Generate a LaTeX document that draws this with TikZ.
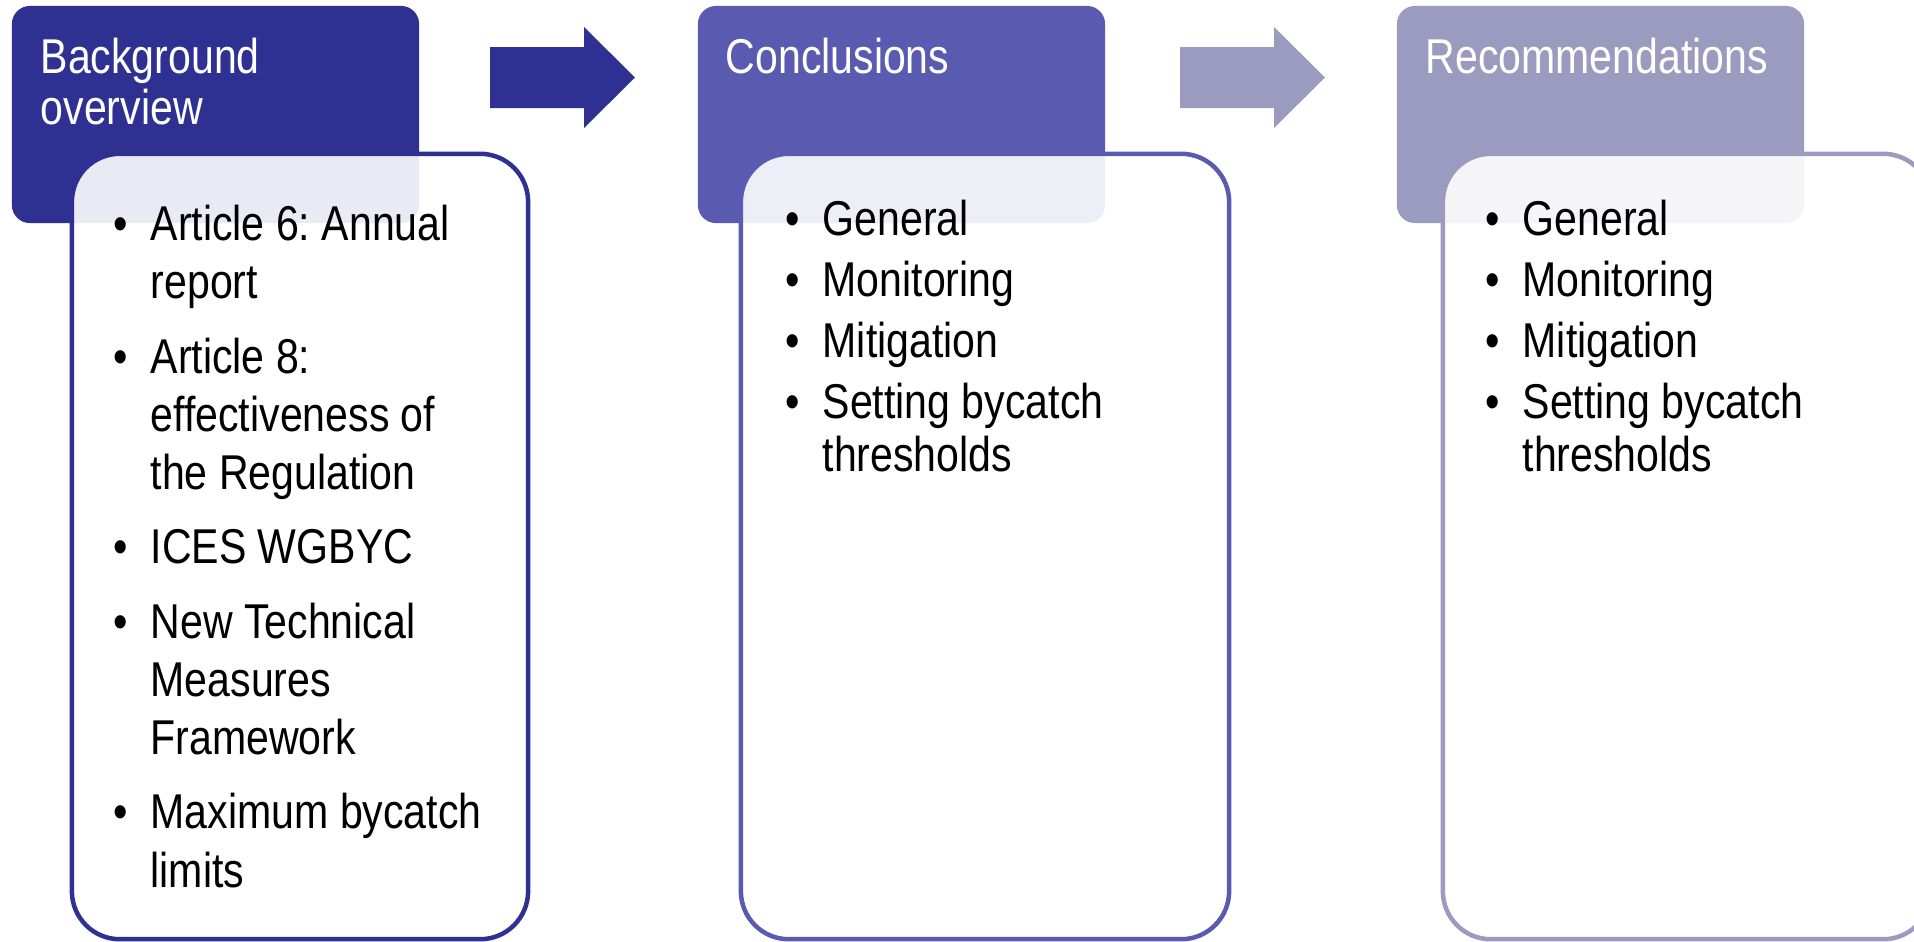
\documentclass[tikz,border=0pt]{standalone}
\usepackage{fontspec}
\setmainfont[FakeStretch=0.84]{Liberation Sans}
\usepackage{tikz}
\usetikzlibrary{positioning}
\definecolor{stagedark}{HTML}{2E3192}
\definecolor{stagemid}{HTML}{5A5AB0}
\definecolor{stagepale}{HTML}{9B9BC0}
\frenchspacing

\newcommand{\blt}{\llap{\textbullet\hspace{0.23cm}}}
% block arrow between two stages: colour, left end of the shaft
\newcommand{\stagearrow}[2]{%
  \fill[#1] (#2,47) -- ++(94,0) -- ++(0,-20) -- ++(51,50.5) -- ++(-51,50.5) -- ++(0,-20) -- ++(-94,0) -- cycle;}

\begin{document}
\begin{tikzpicture}[
  x=0.01cm, y=-0.01cm,
  head/.style={draw=none, rounded corners=0.18cm, minimum width=4.07cm, minimum height=2.17cm, inner sep=0},
  card/.style={draw, line width=0.045cm, rounded corners=0.48cm, fill=white, fill opacity=0.9, minimum height=7.85cm, inner sep=0},
  title/.style={anchor=base west, text=white, align=left, inner sep=0, font=\fontsize{13.9}{14.5}\selectfont},
  items/.style={anchor=base west, align=left, inner sep=0, font=\fontsize{13.9}{16.5}\selectfont}
]
\useasboundingbox (0,0) rectangle (1914,942);

\node[head, fill=stagedark] (bgHead) at (215.5,114.5) {};
\node[head, fill=stagemid] (concHead) at (901.5,114.5) {};
\node[head, fill=stagepale] (recHead) at (1600.5,114.5) {};

\node[card, draw=stagedark, minimum width=4.56cm] (bgCard) at (300,546.5) {};
\node[card, draw=stagemid, minimum width=4.88cm] (concCard) at (985,546.5) {};
\node[card, draw=stagepale, minimum width=4.88cm] (recCard) at (1687,546.5) {};

\stagearrow{stagedark}{490}
\stagearrow{stagepale}{1180}

% text nodes sit on the baseline of their last line
\node[title] (bgTitle) at (40,124) {Background\\overview};
\node[title] (concTitle) at (725,73) {Conclusions};
\node[title] (recTitle) at (1425,73) {Recommendations};

\node[items] (bgList) at (150,887) {\blt Article 6: Annual\\report\\[0.165cm]
  \blt Article 8:\\effectiveness of\\the Regulation\\[0.165cm]
  \blt ICES WGBYC\\[0.165cm]
  \blt New Technical\\Measures\\Framework\\[0.165cm]
  \blt Maximum bycatch\\limits};
\node[items, font=\fontsize{13.9}{14.8}\selectfont] (concList) at (822,471) {\blt General\\[0.09cm]
  \blt Monitoring\\[0.09cm]
  \blt Mitigation\\[0.09cm]
  \blt Setting bycatch\\thresholds};
\node[items, font=\fontsize{13.9}{14.8}\selectfont] (recList) at (1522,471) {\blt General\\[0.09cm]
  \blt Monitoring\\[0.09cm]
  \blt Mitigation\\[0.09cm]
  \blt Setting bycatch\\thresholds};
\end{tikzpicture}
\end{document}
